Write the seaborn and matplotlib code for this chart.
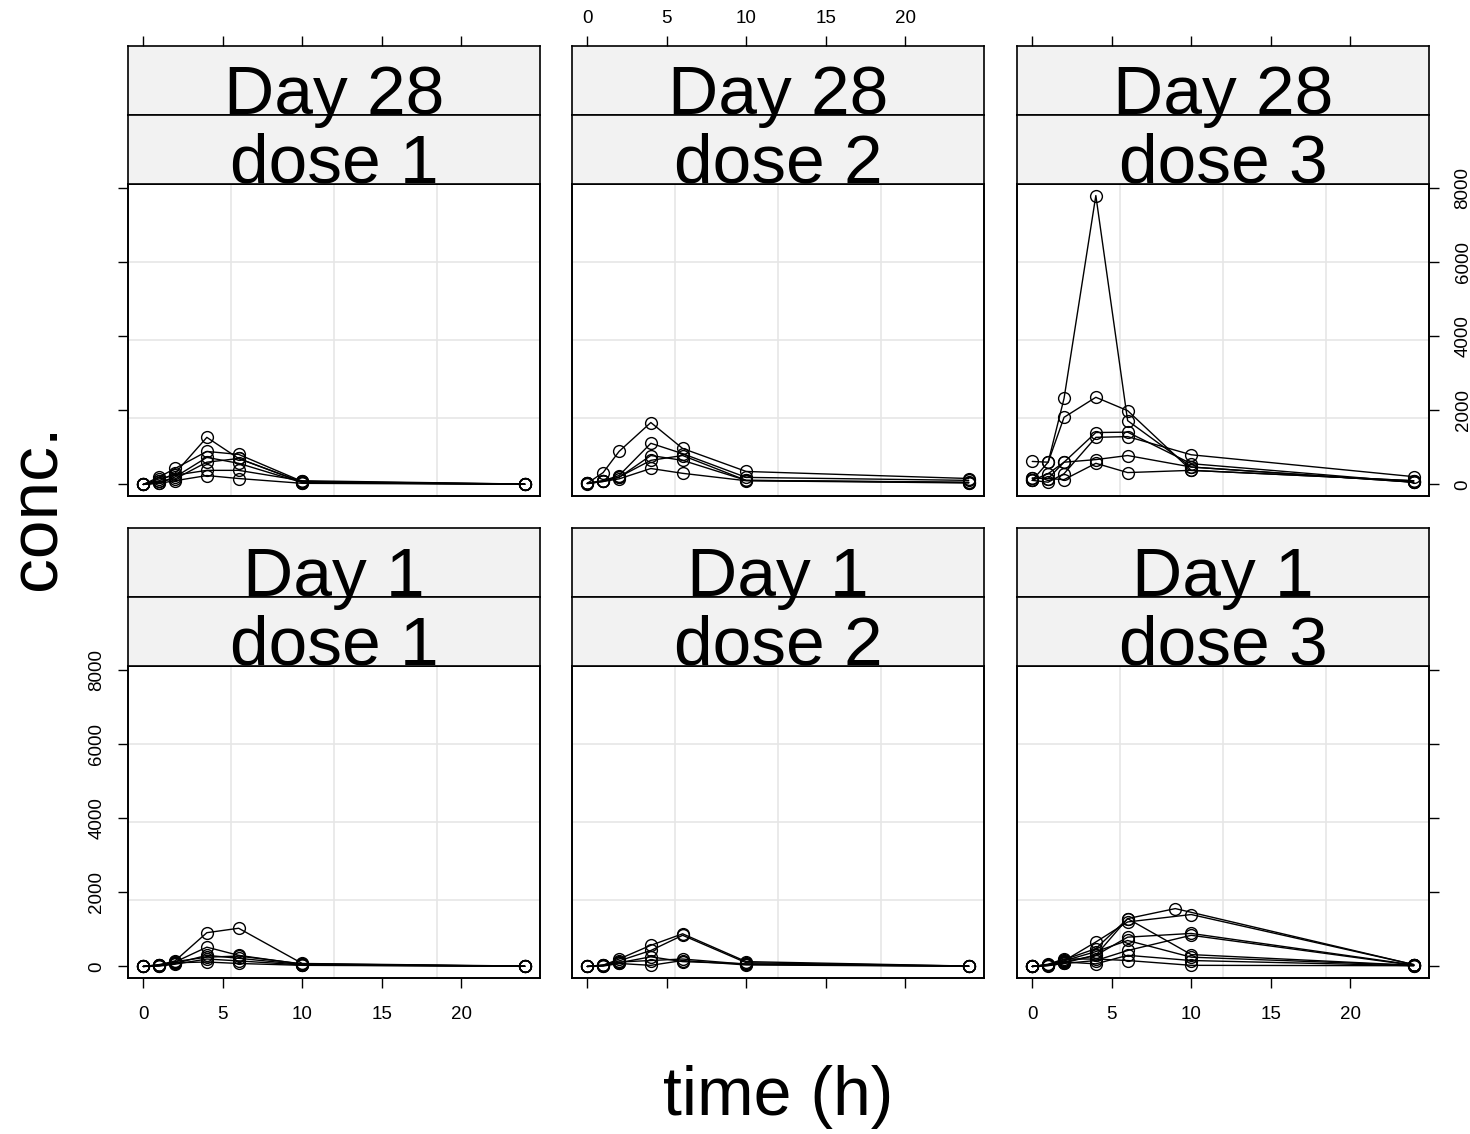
import numpy as np
import pandas as pd
import matplotlib
matplotlib.use("Agg")
import matplotlib.pyplot as plt
import seaborn as sns

# ---------------- data ----------------
TIMES = [0, 1, 2, 4, 6, 10, 24]
DAYS = ["Day 28", "Day 1"]
DOSES = ["dose 1", "dose 2", "dose 3"]

d28_dose1 = [
    [0, 100, 300, 1270, 700, 60, 10],
    [0, 200, 430, 890, 810, 80, 10],
    [0, 50, 200, 730, 570, 50, 5],
    [0, 150, 250, 380, 380, 100, 10],
    [0, 30, 100, 240, 160, 30, 5],
    [0, 80, 150, 600, 700, 60, 5],
]
d28_dose2 = [
    [30, 320, 890, 1670, 970, 350, 160],
    [30, 100, 240, 1110, 830, 190, 110],
    [30, 100, 190, 780, 650, 110, 60],
    [20, 80, 200, 650, 780, 110, 50],
    [30, 80, 150, 430, 300, 100, 40],
]
d28_dose3 = [
    [110, 600, 2320, 7790, 1720, 470, 60],
    [620, 600, 1810, 2350, 1990, 380, 100],
    [170, 160, 600, 1400, 1410, 560, 60],
    [110, 60, 290, 1270, 1290, 800, 210],
    [110, 290, 600, 670, 780, 470, 60],
    [170, 160, 130, 570, 320, 380, 100],
]
d1_dose1 = [
    [0, 30, 150, 910, 1030, 80, 10],
    [0, 40, 120, 520, 300, 60, 5],
    [0, 20, 80, 300, 220, 50, 5],
    [0, 10, 60, 200, 150, 40, 5],
    [0, 30, 100, 120, 80, 30, 5],
    [0, 50, 130, 250, 280, 70, 5],
]
d1_dose2 = [
    [0, 30, 200, 570, 880, 130, 10],
    [0, 40, 150, 430, 840, 100, 10],
    [0, 20, 120, 160, 200, 60, 5],
    [0, 10, 80, 30, 160, 40, 5],
    [0, 30, 100, 260, 130, 70, 5],
]
d1_dose3 = [
    [0, 30, 120, 300, 1290, 1560, 50],
    [0, 40, 150, 660, 1200, 1400, 50],
    [0, 50, 180, 480, 1290, 320, 30],
    [0, 30, 100, 300, 790, 890, 40],
    [0, 20, 80, 160, 430, 840, 30],
    [0, 30, 120, 70, 300, 160, 20],
    [0, 60, 200, 200, 160, 30, 20],
    [0, 40, 150, 400, 700, 250, 30],
]
# subject whose late sample was taken at 9 h instead of 10 h
d1_dose3_s1_times = [0, 1, 2, 4, 6, 9, 24]

X_TICKS = [0, 5, 10, 15, 20]
Y_TICKS = [0, 2000, 4000, 6000, 8000]

panels = {
    ("Day 28", "dose 1"): d28_dose1,
    ("Day 28", "dose 2"): d28_dose2,
    ("Day 28", "dose 3"): d28_dose3,
    ("Day 1", "dose 1"): d1_dose1,
    ("Day 1", "dose 2"): d1_dose2,
    ("Day 1", "dose 3"): d1_dose3,
}

rows = []
for (day, dose), subjects in panels.items():
    for i, conc in enumerate(subjects):
        times = TIMES
        if (day, dose) == ("Day 1", "dose 3") and i == 0:
            times = d1_dose3_s1_times
        for t, c in zip(times, conc):
            rows.append(dict(day=day, dose=dose, id=i, time=t, conc=c))
df = pd.DataFrame(rows)

# ---------------- style ----------------
sns.set_style("white")
plt.rcParams["font.family"] = ["Liberation Sans", "DejaVu Sans"]

W, H = 1470, 1134
fig = plt.figure(figsize=(W / 100, H / 100), dpi=100)

def fx(px):
    return px / W

def fy(py):
    return 1 - py / H

col_x = [128, 572, 1017]
pw = 412
row_geo = {  # strip top, strip mid, panel top, panel bottom
    "Day 28": (46, 115, 184, 496),
    "Day 1": (528, 597, 666, 978),
}

# limits like lattice (4% extension)
xmin, xmax = df["time"].min(), df["time"].max()
ymin, ymax = df["conc"].min(), df["conc"].max()
xr, yr = xmax - xmin, ymax - ymin
XLIM = (xmin - 0.04 * xr, xmax + 0.04 * xr)
YLIM = (ymin - 0.04 * yr, ymax + 0.04 * yr)

STRIP_BG = "#F2F2F2"
TICK_FS = 13.5
tick_len = 7.5
strip_texts = []

for r, day in enumerate(DAYS):
    s_top, s_mid, p_top, p_bot = row_geo[day]
    top_row = (r == 0)
    for c, dose in enumerate(DOSES):
        x0 = col_x[c]
        ax = fig.add_axes([fx(x0), fy(p_bot), fx(pw), (p_bot - p_top) / H])
        ax.set_xlim(XLIM)
        ax.set_ylim(YLIM)
        # grid dividing panel into quarters
        for k in (1, 2, 3):
            ax.axvline(XLIM[0] + k * (XLIM[1] - XLIM[0]) / 4, color="#E6E6E6", lw=1.2, zorder=0)
            ax.axhline(YLIM[0] + k * (YLIM[1] - YLIM[0]) / 4, color="#E6E6E6", lw=1.2, zorder=0)
        sub = df[(df["day"] == day) & (df["dose"] == dose)]
        sns.lineplot(data=sub, x="time", y="conc", units="id", estimator=None,
                     color="black", lw=1.0, marker="o", markersize=8.5,
                     markerfacecolor="none", markeredgecolor="black",
                     markeredgewidth=1.0, legend=False, ax=ax, zorder=3)
        ax.set_xlabel("")
        ax.set_ylabel("")
        for sp in ax.spines.values():
            sp.set_color("black")
            sp.set_linewidth(1.4)
        ax.set_xticks(X_TICKS)
        ax.set_yticks(Y_TICKS)
        ax.tick_params(axis="both", direction="out", length=tick_len, width=1.0,
                       colors="black", labelsize=TICK_FS)
        # x ticks (bottom row only on the panel)
        ax.tick_params(axis="x", top=False, bottom=not top_row,
                       labeltop=False,
                       labelbottom=(not top_row) and c != 1, pad=13)
        # y ticks
        ax.tick_params(axis="y", left=(c == 0), right=(c == 2),
                       labelleft=(c == 0 and not top_row),
                       labelright=(c == 2 and top_row))
        for lab in ax.get_yticklabels():
            lab.set_rotation(90)
            lab.set_va("center")
            lab.set_ha("center")
        if c == 0:
            ax.tick_params(axis="y", pad=15)
        if c == 2:
            ax.tick_params(axis="y", pad=17)

        # strips
        for j, (st, sb, label) in enumerate(((s_top, s_mid, day), (s_mid, p_top, dose))):
            sax = fig.add_axes([fx(x0), fy(sb), fx(pw), (sb - st) / H])
            sax.set_facecolor(STRIP_BG)
            sax.set_xlim(XLIM)
            sax.set_yticks([])
            if top_row and j == 0:
                sax.set_xticks(X_TICKS)
                sax.tick_params(axis="x", top=True, bottom=False,
                                labeltop=(c == 1), labelbottom=False,
                                direction="out", length=tick_len, width=1.0,
                                colors="black", labelsize=TICK_FS, pad=6)
            else:
                sax.set_xticks([])
            for sp in sax.spines.values():
                sp.set_color("black")
                sp.set_linewidth(1.2)
            strip_texts.append((x0 + pw / 2, sb - 1.5, label))

for (tx, ty, label) in strip_texts:
    fig.text(fx(tx), fy(ty), label, ha="center", va="baseline",
             fontsize=50, color="black", zorder=10)

fig.text(fx(38), fy(507), "conc.", rotation=90, ha="center", va="center",
         fontsize=50, color="black")
fig.text(fx(778), fy(1097), "time (h)", ha="center", va="center",
         fontsize=49, color="black")

fig.savefig("out.png", dpi=100, facecolor="white")
